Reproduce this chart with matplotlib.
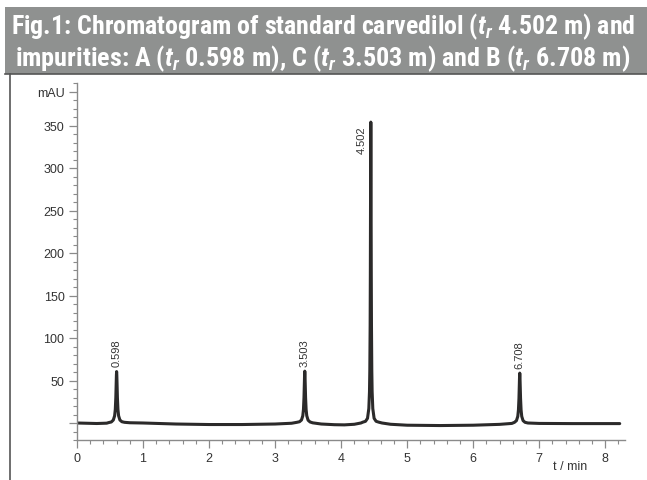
import matplotlib
matplotlib.use("Agg")
import matplotlib.pyplot as plt
from matplotlib import font_manager
from matplotlib.ticker import MultipleLocator, FixedLocator, FixedFormatter

# ---------------- data ----------------
time_min = [0.00, 0.15, 0.30, 0.45, 0.48, 0.52, 0.55, 0.57, 0.58, 0.588, 0.594, 0.597,
            0.600, 0.603, 0.606, 0.612, 0.62, 0.63, 0.65, 0.68, 0.72, 0.80,
            1.00, 1.50, 2.00, 2.50, 3.00, 3.25,
            3.33, 3.37, 3.40, 3.42, 3.43, 3.438, 3.444, 3.447, 3.450, 3.453, 3.456,
            3.462, 3.47, 3.48, 3.50, 3.53, 3.57, 3.70, 3.90, 4.05, 4.20,
            4.30, 4.33, 4.37, 4.40, 4.42, 4.43, 4.435, 4.44, 4.443, 4.446, 4.448,
            4.450, 4.452, 4.454, 4.457, 4.46, 4.465, 4.47, 4.48, 4.50, 4.53, 4.57,
            4.62, 4.75, 5.00, 5.50, 6.00, 6.40, 6.586,
            6.626, 6.656, 6.676, 6.686, 6.694, 6.700, 6.703, 6.706, 6.709, 6.712,
            6.718, 6.726, 6.736, 6.756, 6.786, 6.83, 7.00, 7.50, 8.00, 8.22]
signal_mau = [0.0, -0.3, -0.6, -0.2, 0.5, 1.2, 3.5, 8.5, 16.0, 30.0, 48.0, 56.5,
              60.5, 56.5, 48.0, 30.0, 16.0, 8.5, 3.5, 1.5, 0.8, 0.3,
              0.0, -1.2, -1.8, -1.8, -1.2, -0.3,
              0.8, 1.5, 3.5, 8.5, 16.0, 30.0, 48.0, 57.0, 61.0, 57.0, 48.0,
              30.0, 16.0, 8.5, 3.3, 1.2, 0.2, -1.2, -2.0, -2.2, -1.5,
              0.0, 1.0, 2.0, 5.5, 17.0, 37.0, 62.0, 115.0, 175.0, 265.0, 325.0,
              354.0, 325.0, 265.0, 175.0, 115.0, 62.0, 37.0, 17.0, 5.5, 2.0, 1.0,
              0.0, -1.5, -2.6, -3.0, -2.6, -1.6, -0.5,
              0.8, 2.8, 7.8, 15.4, 29.0, 46.5, 55.0, 58.7, 55.0, 46.5,
              29.0, 15.4, 7.8, 2.8, 0.8, 0.0, -0.5, -0.7, -0.7, -0.7]

peak_times = [0.60, 3.45, 4.45, 6.706]
peak_heights = [60.5, 61.0, 354.0, 58.7]
peak_labels = ["0.598", "3.503", "4.502", "6.708"]

x_ticks = [0, 1, 2, 3, 4, 5, 6, 7, 8]
y_ticks = [50, 100, 150, 200, 250, 300, 350]

title_lines = [r"Fig.1: Chromatogram of standard carvedilol ($t_r$ 4.502 m) and",
               r"impurities: A ($t_r$ 0.598 m), C ($t_r$ 3.503 m) and B ($t_r$ 6.708 m)"]

# ---------------- fonts ----------------
names = {f.name for f in font_manager.fontManager.ttflist}
condensed = [f for f in font_manager.fontManager.ttflist
             if f.stretch in ("condensed", "semi-condensed", "extra-condensed")
             or "Narrow" in f.name or "Condensed" in f.name]
title_family = None
title_stretch = "normal"
for cand in ["Liberation Sans Narrow", "Roboto Condensed", "Open Sans Condensed",
             "DejaVu Sans Condensed", "Noto Sans Condensed"]:
    if cand in names:
        title_family = cand
        break
if title_family is None:
    cd = [f for f in condensed if f.name == "DejaVu Sans"]
    if cd:
        title_family = "DejaVu Sans"
        title_stretch = "condensed"
    else:
        title_family = "Liberation Sans"

plt.rcParams["font.family"] = ["Liberation Sans", "DejaVu Sans"]
plt.rcParams["mathtext.fontset"] = "custom"
plt.rcParams["mathtext.rm"] = f"{title_family}:bold"
plt.rcParams["mathtext.it"] = f"{title_family}:bold:italic"
plt.rcParams["mathtext.bf"] = f"{title_family}:bold"

W, H = 647, 481
fig = plt.figure(figsize=(W / 100, H / 100), dpi=100)
fig.patch.set_facecolor("white")

# title banner
banner = plt.Rectangle((5 / W, 1 - 75 / H), 1 - 5 / W, 67 / H, transform=fig.transFigure,
                       facecolor="#8f9190", edgecolor="none", zorder=0)
fig.add_artist(banner)
fig.add_artist(plt.Line2D([5 / W, 1], [1 - 75 / H, 1 - 75 / H], transform=fig.transFigure,
                          color="#555555", lw=1.2))
fig.add_artist(plt.Line2D([10 / W, 10 / W], [0, 1 - 75 / H], transform=fig.transFigure,
                          color="#555555", lw=1.2))

renderer = fig.canvas.get_renderer()
targets = [627, 617]
for i, line in enumerate(title_lines):
    t = fig.text(323 / W, 1 - (27 + 32 * i) / H, line, ha="center", va="center",
                 color="white", fontsize=16, fontweight="bold",
                 family=[title_family, "DejaVu Sans"], stretch=title_stretch)
    w = t.get_window_extent(renderer).width
    fs = 16 * targets[i] / w
    t.set_fontsize(fs)

# axes
x0, x1 = 77, 625
ytop, ybot = 84, 441
ax = fig.add_axes([x0 / W, 1 - ybot / H, (x1 - x0) / W, (ybot - ytop) / H])
ax.set_xlim(0, 8.3)
ax.set_ylim(-20, 400)

ax.plot(time_min, signal_mau, color="#2b2a2a", lw=2.2, solid_joinstyle="round",
        solid_capstyle="round")

for t, h, lab in zip(peak_times, peak_heights, peak_labels):
    ax.annotate(lab, xy=(t, h), xytext=(-3 if h > 300 else 0, 4 if h < 300 else -2),
                textcoords="offset points", rotation=90,
                ha="center" if h < 300 else "right",
                va="bottom" if h < 300 else "top",
                fontsize=8, color="#333333")

for s in ["top", "right"]:
    ax.spines[s].set_visible(False)
for s in ["left", "bottom"]:
    ax.spines[s].set_color("#8a8a8a")
    ax.spines[s].set_linewidth(1.0)

ax.xaxis.set_major_locator(FixedLocator(x_ticks))
ax.xaxis.set_major_formatter(FixedFormatter([str(v) for v in x_ticks]))
ax.xaxis.set_minor_locator(MultipleLocator(0.2))
yt = [0] + y_ticks + [390]
ax.yaxis.set_major_locator(FixedLocator(yt))
ax.yaxis.set_major_formatter(FixedFormatter([""] + [str(v) for v in y_ticks] + ["mAU"]))
ax.yaxis.set_minor_locator(MultipleLocator(10))
ax.tick_params(which="major", length=6, width=0.9, color="#8a8a8a", labelsize=9,
               labelcolor="#333333", pad=3)
ax.tick_params(which="minor", length=3, width=0.8, color="#8a8a8a")
ax.set_facecolor("white")

fig.text(570 / W, 1 - 467 / H, "t / min", ha="center", va="center", fontsize=9,
         color="#333333")

fig.savefig("out.png", dpi=100)
